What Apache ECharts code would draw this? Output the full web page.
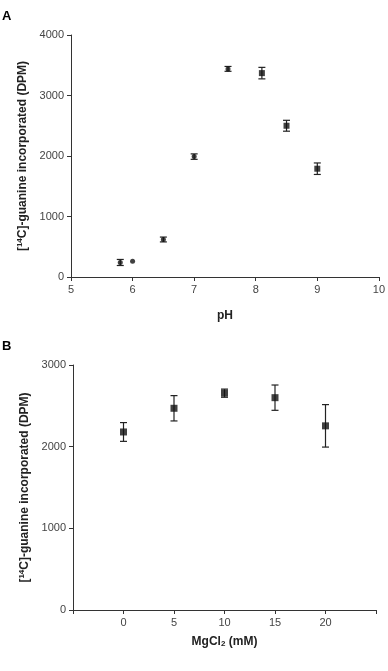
<!DOCTYPE html>
<html>
<head>
<meta charset="utf-8">
<script src="https://cdn.jsdelivr.net/npm/echarts@6/dist/echarts.min.js"></script>
<style>
  html, body { margin: 0; padding: 0; background: #fff; }
  #chart { width: 388px; height: 671px; }
</style>
</head>
<body>
<div id="chart"></div>
<script>
// panel A: pH dependence
const phValues = [5.8, 6.0, 6.5, 7.0, 7.55, 8.1, 8.5, 9.0];
const phMeans = [240, 260, 620, 1990, 3440, 3370, 2500, 1790];
const phErrors = [50, 0, 40, 45, 40, 95, 90, 95];

// panel B: MgCl2 dependence
const mgValues = [0, 5, 10, 15, 20];
const mgMeans = [2180, 2470, 2655, 2600, 2255];
const mgErrors = [115, 155, 50, 155, 260];

const FONT = '"Liberation Sans", Arial, sans-serif';
const INK = '#222';

const chart = echarts.init(document.getElementById('chart'));

function errorBars(xIndex, yIndex, xs, means, errs) {
  return {
    type: 'custom',
    xAxisIndex: xIndex,
    yAxisIndex: yIndex,
    data: xs.map((x, i) => [x, means[i] - errs[i], means[i] + errs[i]]),
    renderItem(params, api) {
      const lo = api.coord([api.value(0), api.value(1)]);
      const hi = api.coord([api.value(0), api.value(2)]);
      if (hi[1] === lo[1]) return null;
      const w = 3.5;
      const style = { stroke: INK, lineWidth: 1.2 };
      return {
        type: 'group',
        children: [
          { type: 'line', shape: { x1: lo[0], y1: lo[1], x2: hi[0], y2: hi[1] }, style },
          { type: 'line', shape: { x1: lo[0] - w, y1: lo[1], x2: lo[0] + w, y2: lo[1] }, style },
          { type: 'line', shape: { x1: hi[0] - w, y1: hi[1], x2: hi[0] + w, y2: hi[1] }, style },
        ],
      };
    },
    z: 2,
  };
}

const tickLabel = { fontFamily: FONT, fontSize: 11, color: '#444', margin: 7, formatter: (v) => String(v) };
const axisLine = { show: true, onZero: false, lineStyle: { color: '#333', width: 1 } };
const axisTick = { show: true, length: 4, lineStyle: { color: '#333' } };
const yName = '[{sup|14}C]-guanine incorporated (DPM)';
const nameStyle = {
  fontFamily: FONT, fontSize: 12, fontWeight: 'bold', color: INK,
  rich: {
    sup: { fontFamily: FONT, fontSize: 8, fontWeight: 'bold', color: INK, verticalAlign: 'top', padding: [0, 0, 5, 0] },
    sub: { fontFamily: FONT, fontSize: 8, fontWeight: 'bold', color: INK, verticalAlign: 'bottom', padding: [4, 0, 0, 0] },
  },
};

chart.setOption({
  animation: false,
  backgroundColor: '#fff',
  graphic: [
    { type: 'text', left: 2, top: 10, style: { text: 'A', fontFamily: FONT, fontSize: 13, fontWeight: 'bold', fill: '#000' } },
    { type: 'text', left: 2, top: 340, style: { text: 'B', fontFamily: FONT, fontSize: 13, fontWeight: 'bold', fill: '#000' } },
  ],
  grid: [
    { left: 71, top: 35, width: 309, height: 242 },
    { left: 73, top: 365, width: 303, height: 245 },
  ],
  xAxis: [
    {
      gridIndex: 0, type: 'value', min: 5, max: 10, interval: 1,
      name: 'pH', nameLocation: 'middle', nameGap: 33, nameTextStyle: nameStyle,
      axisLine, axisTick, axisLabel: tickLabel, splitLine: { show: false },
    },
    {
      gridIndex: 1, type: 'value', min: -5, max: 25, interval: 5,
      name: 'MgCl{sub|2} (mM)', nameLocation: 'middle', nameGap: 26, nameTextStyle: nameStyle,
      axisLine, axisTick,
      axisLabel: { ...tickLabel, formatter: (v) => (v < 0 || v > 20 ? '' : String(v)) },
      splitLine: { show: false },
    },
  ],
  yAxis: [
    {
      gridIndex: 0, type: 'value', min: 0, max: 4000, interval: 1000,
      name: yName, nameLocation: 'middle', nameGap: 35, nameTextStyle: nameStyle,
      axisLine, axisTick, axisLabel: tickLabel, splitLine: { show: false },
    },
    {
      gridIndex: 1, type: 'value', min: 0, max: 3000, interval: 1000,
      name: yName, nameLocation: 'middle', nameGap: 37, nameTextStyle: nameStyle,
      axisLine, axisTick, axisLabel: tickLabel, splitLine: { show: false },
    },
  ],
  series: [
    errorBars(0, 0, phValues, phMeans, phErrors),
    {
      type: 'scatter', xAxisIndex: 0, yAxisIndex: 0,
      data: phValues.map((x, i) => [x, phMeans[i]]),
      symbol: (v, p) => (p.dataIndex < 5 ? 'circle' : 'rect'),
      symbolSize: (v, p) => (p.dataIndex < 5 ? 5 : 6),
      itemStyle: { color: '#111' },
      z: 3,
    },
    errorBars(1, 1, mgValues, mgMeans, mgErrors),
    {
      type: 'scatter', xAxisIndex: 1, yAxisIndex: 1,
      data: mgValues.map((x, i) => [x, mgMeans[i]]),
      symbol: 'rect', symbolSize: 7,
      itemStyle: { color: '#111' },
      z: 3,
    },
  ],
});
</script>
</body>
</html>
